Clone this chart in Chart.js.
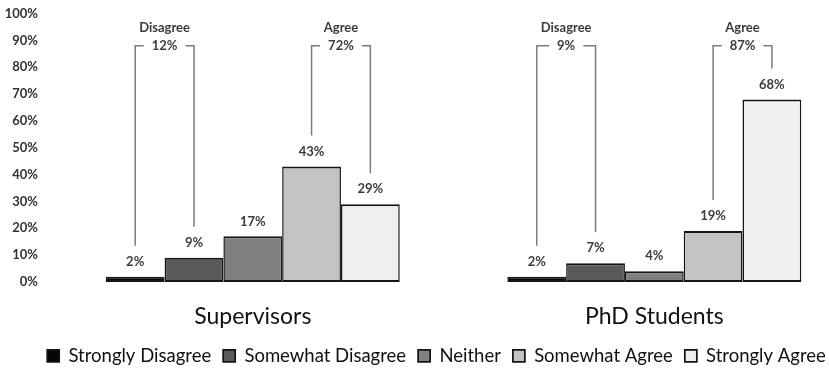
<!DOCTYPE html>
<html>
<head>
<meta charset="utf-8">
<script src="https://cdn.jsdelivr.net/npm/chart.js@4/dist/chart.umd.min.js"></script>
<style>
  html, body { margin: 0; padding: 0; background: #ffffff; }
  #wrap { width: 829px; height: 371px; position: relative; }
</style>
</head>
<body>
<div id="wrap"><canvas id="chart"></canvas></div>
<script>
// Survey groups and answer scale
const groups = ['Supervisors', 'PhD Students'];
const responses = ['Strongly Disagree', 'Somewhat Disagree', 'Neither', 'Somewhat Agree', 'Strongly Agree'];

// Share of respondents (%) per answer, in the order of `responses`
const supervisors = [2, 9, 17, 43, 29];
const phdStudents = [2, 7, 4, 19, 68];

// Combined totals shown on the brackets
const disagreeTotals = [12, 9];
const agreeTotals = [72, 87];

// Y-axis tick values (%)
const yTicks = [0, 10, 20, 30, 40, 50, 60, 70, 80, 90, 100];

const fills = ['#050505', '#5a5a5a', '#808080', '#c3c3c3', '#efefef'];
const FONT = 'Lato, "Open Sans", sans-serif';

const datasets = responses.map((name, i) => ({
  label: name,
  data: [{ x: 0, y: supervisors[i] }, { x: 1, y: phdStudents[i] }],
  backgroundColor: fills[i],
  borderColor: '#151515',
  borderWidth: { top: 2, bottom: 2, left: 1.5, right: 1.5 },
  borderSkipped: false,
  categoryPercentage: 0.732,
  barPercentage: 1.0
}));

// Value labels above each bar plus the Disagree / Agree brackets
const annotate = {
  id: 'annotate',
  afterDatasetsDraw(chart) {
    const { ctx } = chart;
    const y = chart.scales.y;
    ctx.save();
    ctx.textAlign = 'center';
    ctx.textBaseline = 'middle';
    ctx.fillStyle = '#3c3c3c';
    ctx.font = 'bold 13px ' + FONT;

    chart.data.datasets.forEach((ds, di) => {
      chart.getDatasetMeta(di).data.forEach((bar, gi) => {
        ctx.fillText(ds.data[gi].y + '%', bar.x, bar.y - 15);
      });
    });

    const bracket = (gi, a, b, title, total) => {
      const barA = chart.getDatasetMeta(a).data[gi];
      const barB = chart.getDatasetMeta(b).data[gi];
      const yTop = y.getPixelForValue(88);
      const yTitle = y.getPixelForValue(94.5);
      const cx = (barA.x + barB.x) / 2;
      const txt = total + '%';
      const w = ctx.measureText(txt).width;
      ctx.fillText(title, cx, yTitle);
      ctx.fillText(txt, cx, yTop);
      ctx.beginPath();
      ctx.moveTo(barA.x, barA.y - 31);
      ctx.lineTo(barA.x, yTop);
      ctx.lineTo(cx - w / 2 - 8, yTop);
      ctx.moveTo(cx + w / 2 + 8, yTop);
      ctx.lineTo(barB.x, yTop);
      ctx.lineTo(barB.x, barB.y - 31);
      ctx.strokeStyle = '#7c7c7c';
      ctx.lineWidth = 1.5;
      ctx.stroke();
    };

    groups.forEach((g, gi) => {
      bracket(gi, 0, 1, 'Disagree', disagreeTotals[gi]);
      bracket(gi, 3, 4, 'Agree', agreeTotals[gi]);
    });
    ctx.restore();
  }
};

// Nudge the legend row so it sits centred under the full figure
const legendShift = {
  id: 'legendShift',
  afterLayout(chart) {
    const lg = chart.legend;
    lg.left += 22; lg.right += 22;
    lg.top += 4; lg.bottom += 4;
  }
};

new Chart(document.getElementById('chart'), {
  type: 'bar',
  data: { datasets },
  plugins: [annotate, legendShift],
  options: {
    responsive: true,
    maintainAspectRatio: false,
    animation: false,
    devicePixelRatio: 1,
    layout: { padding: { top: 13.5, right: 0, bottom: 0, left: 0 } },
    plugins: {
      tooltip: { enabled: false },
      legend: {
        position: 'bottom',
        labels: {
          color: '#111111',
          font: { family: FONT, size: 18.5 },
          boxWidth: 12,
          boxHeight: 12,
          padding: 12
        }
      }
    },
    scales: {
      x: {
        type: 'linear',
        offset: false,
        min: -0.5,
        max: 1.435,
        grid: { display: false, drawTicks: false, tickLength: 0 },
        border: { display: false },
        afterBuildTicks(axis) { axis.ticks = [{ value: 0 }, { value: 1 }]; },
        afterFit(axis) { axis.height = 48.5; },
        ticks: {
          padding: 21,
          color: '#111111',
          font: { family: FONT, size: 23 },
          callback: (v) => groups[v]
        }
      },
      y: {
        min: 0,
        max: 100,
        grid: { display: false, drawTicks: false, tickLength: 0 },
        border: { display: false },
        afterFit(axis) { axis.width = 52; axis.paddingTop = 0; axis.paddingBottom = 0; },
        afterBuildTicks(axis) { axis.ticks = yTicks.map(v => ({ value: v })); },
        ticks: {
          padding: 14,
          color: '#333333',
          font: { family: FONT, size: 13, weight: 'bold' },
          callback: (v) => v + '%'
        }
      }
    }
  }
});
</script>
</body>
</html>
